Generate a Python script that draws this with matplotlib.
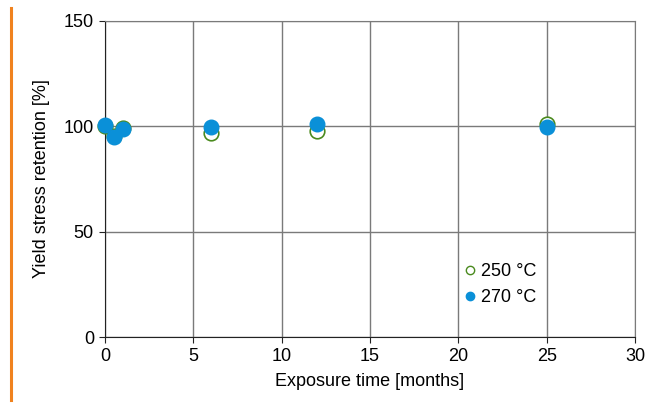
import matplotlib
matplotlib.use("Agg")
import matplotlib.pyplot as plt
from matplotlib.lines import Line2D

plt.rcParams['font.family'] = ['Liberation Sans', 'DejaVu Sans']

months = [0, 0.5, 1, 6, 12, 25]
y250 = [100, 95.5, 99, 97, 98, 101]
y270 = [100.5, 95, 98.5, 99.5, 101, 99.5]
labels = ["250 °C", "270 °C"]
xticks = [0, 5, 10, 15, 20, 25, 30]
yticks = [0, 50, 100, 150]

green = "#4a8a1e"
blue = "#0a90d8"
fs = 13

fig = plt.figure(figsize=(6.51, 4.03), dpi=100)
ax = fig.add_axes([105/651, 1-337/403, (635-105)/651, (337-21)/403])

ax.scatter(months, y250, s=110, facecolors="white", edgecolors=green, linewidths=1.2, zorder=3, clip_on=False)
ax.scatter(months, y270, s=110, color=blue, zorder=4, clip_on=False)

ax.set_xlim(0, 30)
ax.set_ylim(0, 150)
ax.set_xticks(xticks)
ax.set_yticks(yticks)
ax.grid(True, color="#7a7a7a", linewidth=1.0)
ax.set_axisbelow(True)
for s in ["top", "right"]:
    ax.spines[s].set_color("#7a7a7a")
for s in ["left", "bottom"]:
    ax.spines[s].set_color("#222222")
ax.tick_params(axis="both", labelsize=fs, length=4, color="#222222", pad=4)
ax.set_xlabel("Exposure time [months]", fontsize=fs, labelpad=6)
ax.set_ylabel("Yield stress retention [%]", fontsize=fs, labelpad=10)

handles = [
    Line2D([], [], marker="o", linestyle="none", markersize=6, markerfacecolor="white", markeredgecolor=green, markeredgewidth=1.0),
    Line2D([], [], marker="o", linestyle="none", markersize=6, color=blue),
]
ax.legend(handles, labels, loc="upper left", bbox_to_anchor=((454-105)/530, (337-256)/316),
          frameon=False, fontsize=fs, handletextpad=0.1, handlelength=1.0, labelspacing=0.5, borderaxespad=0)

fig.add_artist(Line2D([11/651, 11/651], [1-8/403, 1-400/403], color="#f0821e", linewidth=2.2, transform=fig.transFigure))

fig.savefig("out.png", dpi=100)
